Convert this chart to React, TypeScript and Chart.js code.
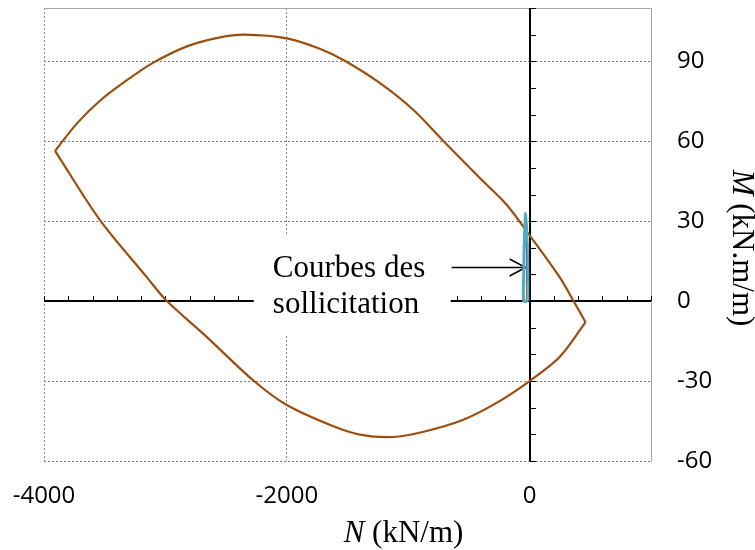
import React, { useEffect, useRef } from "react";
import { Chart, registerables } from "chart.js";

Chart.register(...registerables);

// ---------- data ----------
const upperN = [-3909, -3728, -3539, -3317, -3103, -2823, -2551, -2346, -2000, -1728, -1523, -1235, -963, -716, -412, -189, 0, 247, 354, 461];
const upperM = [56.4, 66.7, 75.2, 82.9, 89.4, 95.6, 99.0, 100.0, 98.6, 94.7, 90.2, 81.9, 72.0, 60.4, 46.3, 36.2, 24.7, 9.0, 0.7, -7.9];

const lowerN = [461, 247, 0, -272, -551, -881, -1128, -1399, -1621, -2000, -2280, -2658, -2996, -3155, -3539, -3909];
const lowerM = [-7.9, -21, -30, -38.2, -44.6, -49.1, -51.0, -50.1, -46.9, -39, -29.6, -13.5, 0.4, 9.1, 30.4, 56.4];

const cyanN = [-15, -15, -19, -26, -33, -39, -45, -48, -48, -15];
const cyanM = [0, 10, 20, 28, 33, 28, 20, 10, 0, 0];

const purpleN = [-27, -26, -25];
const purpleM = [0, 12, 22];

const oliveN = [-20, -19];
const oliveM = [0, 7];

const orangeN = [-23, -22];
const orangeM = [0, 5];

const xTicks = [-4000, -2000, 0];
const yTicks = [-60, -30, 0, 30, 60, 90];
const xMin = -4000;
const xMax = 1000;
const yMin = -60;
const yMax = 110;
const xMinorStep = 200;
const yMinorStep = 10;

const annotationLines = ["Courbes des", "sollicitation"];
const xTitleItalic = "N";
const xTitleRest = " (kN/m)";
const yTitleItalic = "M";
const yTitleRest = " (kN.m/m)";

// annotation anchors in data units
const boxN = [-2272, -650];
const boxM = [24.4, -12.4];
const textN = -2115;
const textM = [9.0, -4.5];
const arrowTailN = -642;
const arrowTipN = -33;
const arrowM = 12.7;

const BROWN = "#9E4D0C";
const CYAN = "#4BACC6";
const PURPLE = "#8064A2";
const OLIVE = "#9BBB59";
const ORANGE = "#F79646";

const TICK_FONT = "'Open Sans', sans-serif";
const SERIF = "'Liberation Serif', 'Times New Roman', serif";

function pts(n: number[], m: number[]) {
  return n.map((v, i) => ({ x: v, y: m[i] }));
}

const axesPlugin = {
  id: "crossAxes",
  beforeDatasetsDraw(chart: any) {
    const { ctx, chartArea, scales } = chart;
    const xs = scales.x;
    const ys = scales.y;
    const x0 = Math.round(xs.getPixelForValue(0));
    const y0 = Math.round(ys.getPixelForValue(0));
    ctx.save();
    // top border
    ctx.strokeStyle = "#a6a6a6";
    ctx.lineWidth = 1;
    ctx.beginPath();
    ctx.moveTo(chartArea.left, Math.round(chartArea.top) + 0.5);
    ctx.lineTo(chartArea.right, Math.round(chartArea.top) + 0.5);
    ctx.stroke();

    ctx.strokeStyle = "#000";
    ctx.lineWidth = 1;
    for (let v = xMin; v <= xMax; v += xMinorStep) {
      const px = Math.round(xs.getPixelForValue(v)) + 0.5;
      ctx.beginPath();
      ctx.moveTo(px, y0);
      ctx.lineTo(px, y0 - 5);
      ctx.stroke();
    }
    for (let v = yMin; v <= yMax; v += yMinorStep) {
      const py = Math.round(ys.getPixelForValue(v)) + 0.5;
      ctx.beginPath();
      ctx.moveTo(x0, py);
      ctx.lineTo(x0 + 6, py);
      ctx.stroke();
    }
    ctx.lineWidth = 2;
    ctx.beginPath();
    ctx.moveTo(chartArea.left, y0);
    ctx.lineTo(chartArea.right, y0);
    ctx.stroke();
    ctx.beginPath();
    ctx.moveTo(x0, chartArea.top);
    ctx.lineTo(x0, chartArea.bottom);
    ctx.stroke();

    // annotation box
    const bx1 = xs.getPixelForValue(boxN[0]);
    const bx2 = xs.getPixelForValue(boxN[1]);
    const by1 = ys.getPixelForValue(boxM[0]);
    const by2 = ys.getPixelForValue(boxM[1]);
    ctx.fillStyle = "#fff";
    ctx.fillRect(bx1, by1, bx2 - bx1, by2 - by1);
    ctx.fillStyle = "#000";
    ctx.font = `31px ${SERIF}`;
    ctx.textAlign = "left";
    ctx.textBaseline = "alphabetic";
    const tx = xs.getPixelForValue(textN);
    annotationLines.forEach((line, i) => {
      ctx.fillText(line, tx, ys.getPixelForValue(textM[i]));
    });
    // arrow
    const ax1 = xs.getPixelForValue(arrowTailN);
    const ax2 = xs.getPixelForValue(arrowTipN);
    const ay = Math.round(ys.getPixelForValue(arrowM)) + 0.5;
    ctx.lineWidth = 1.5;
    ctx.beginPath();
    ctx.moveTo(ax1, ay);
    ctx.lineTo(ax2, ay);
    ctx.stroke();
    ctx.beginPath();
    ctx.moveTo(ax2 - 16, ay - 8.5);
    ctx.lineTo(ax2, ay);
    ctx.lineTo(ax2 - 16, ay + 8.5);
    ctx.stroke();
    ctx.restore();
  },
  afterDraw(chart: any) {
    const { ctx } = chart;
    ctx.save();
    ctx.fillStyle = "#000";
    ctx.textBaseline = "alphabetic";
    ctx.textAlign = "left";
    const itFont = `italic 31px ${SERIF}`;
    const nFont = `31px ${SERIF}`;
    // x title
    ctx.font = itFont;
    const w1 = ctx.measureText(xTitleItalic).width;
    ctx.font = nFont;
    const w2 = ctx.measureText(xTitleRest).width;
    const sx = 403.5 - (w1 + w2) / 2;
    ctx.font = itFont;
    ctx.fillText(xTitleItalic, sx, 542);
    ctx.font = nFont;
    ctx.fillText(xTitleRest, sx + w1, 542);
    // y title
    ctx.font = itFont;
    const v1 = ctx.measureText(yTitleItalic).width;
    ctx.font = nFont;
    const v2 = ctx.measureText(yTitleRest).width;
    ctx.translate(733, 248);
    ctx.rotate(Math.PI / 2);
    const sy = -(v1 + v2) / 2;
    ctx.font = itFont;
    ctx.fillText(yTitleItalic, sy, 0);
    ctx.font = nFont;
    ctx.fillText(yTitleRest, sy + v1, 0);
    ctx.restore();
  },
};

export default function App() {
  const ref = useRef<HTMLCanvasElement | null>(null);
  useEffect(() => {
    if (!ref.current) return;
    const line = (data: any, color: string, width: number, order: number, tension = 0.3) => ({
      data,
      borderColor: color,
      backgroundColor: color,
      borderWidth: width,
      showLine: true,
      pointRadius: 0,
      tension,
      fill: false,
      order,
    });
    const chart = new Chart(ref.current, {
      type: "scatter",
      data: {
        datasets: [
          line(pts(cyanN, cyanM), CYAN, 3, 1, 0.3),
          line(pts(purpleN, purpleM), PURPLE, 1, 0, 0),
          line(pts(oliveN, oliveM), OLIVE, 1, 0, 0),
          line(pts(orangeN, orangeM), ORANGE, 1, 0, 0),
          line(pts(upperN, upperM), BROWN, 2.2, 5, 0.3),
          line(pts(lowerN, lowerM), BROWN, 2.2, 5, 0.3),
        ] as any,
      },
      options: {
        animation: false,
        responsive: false,
        maintainAspectRatio: false,
        layout: { padding: { left: 44, top: 8, right: 0, bottom: 0 } },
        plugins: { legend: { display: false }, tooltip: { enabled: false } },
        scales: {
          x: {
            type: "linear",
            position: "bottom",
            min: xMin,
            max: xMax,
            afterBuildTicks: (s: any) => {
              s.ticks = xTicks.map((v) => ({ value: v }));
            },
            afterFit: (s: any) => {
              s.height = 89;
              s.paddingLeft = 0;
              s.paddingRight = 0;
            },
            grid: { color: "#8c8c8c", lineWidth: 1, drawTicks: false },
            border: { display: false, dash: [2, 2] },
            ticks: {
              padding: 21,
              color: "#000",
              font: { family: TICK_FONT, size: 24 },
              maxRotation: 0,
              callback: (v: any) => String(v),
            },
          },
          y: {
            type: "linear",
            position: "right",
            min: yMin,
            max: yMax,
            afterBuildTicks: (s: any) => {
              s.ticks = yTicks.map((v) => ({ value: v }));
            },
            afterFit: (s: any) => {
              s.width = 104;
              s.paddingTop = 0;
              s.paddingBottom = 0;
            },
            grid: { color: "#7a7a7a", lineWidth: 1, drawTicks: false },
            border: { display: true, color: "#a6a6a6", width: 1, dash: [2, 2] },
            ticks: {
              padding: 26,
              color: "#000",
              font: { family: TICK_FONT, size: 24 },
              callback: (v: any) => String(v),
            },
          },
        },
      } as any,
      plugins: [axesPlugin],
    });
    return () => chart.destroy();
  }, []);
  return (
    <div style={{ position: "fixed", left: 0, top: 0, width: 755, height: 550, background: "#fff" }}>
      <canvas ref={ref} width={755} height={550} style={{ width: 755, height: 550, display: "block" }} />
    </div>
  );
}
